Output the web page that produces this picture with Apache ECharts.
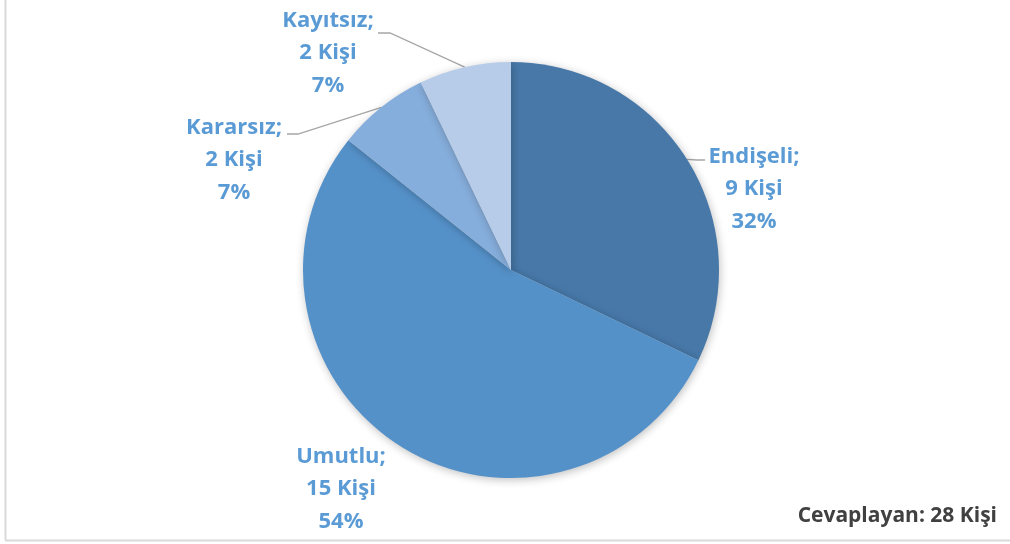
<!DOCTYPE html>
<html>
<head>
<meta charset="utf-8">
<style>
html, body { margin: 0; padding: 0; background: #fff; }
#main { width: 1010px; height: 544px; }
</style>
<script src="https://cdn.jsdelivr.net/npm/echarts@6/dist/echarts.min.js"></script>
</head>
<body>
<div id="main"></div>
<script>
// veriler
var names = ['Endişeli', 'Umutlu', 'Kararsız', 'Kayıtsız'];
var counts = [9, 15, 2, 2];
var percents = ['32%', '54%', '7%', '7%'];
var sliceColors = ['#4778a8', '#5591c9', '#86aedc', '#b7cce8'];
var footnote = 'Cevaplayan: 28 Kişi';

// etiket merkezleri
var labelPos = [
	{ x: 754, y: 189 },
	{ x: 341, y: 489 },
	{ x: 234, y: 160 },
	{ x: 328, y: 53 }
];
// kılavuz çizgilerin kırılma ve bitiş noktaları (ilk satıra bağlanır)
var leaderPts = [
	[[697, 160], [705, 160]],
	null,
	[[298, 134], [287, 134]],
	[[390, 33], [378, 33]]
];

var chart = echarts.init(document.getElementById('main'));

var pieData = names.map(function (n, i) {
	return {
		name: n,
		value: counts[i],
		itemStyle: { color: sliceColors[i] },
		labelLine: { show: i !== 1 }
	};
});

var option = {
	backgroundColor: '#ffffff',
	animation: false,
	graphic: [{
		type: 'line',
		shape: { x1: 5.5, y1: 0, x2: 5.5, y2: 540 },
		style: { stroke: '#d9d9d9', lineWidth: 2 }
	}, {
		type: 'line',
		shape: { x1: 5, y1: 540.5, x2: 1010, y2: 540.5 },
		style: { stroke: '#d9d9d9', lineWidth: 2 }
	}, {
		type: 'text',
		right: 13,
		top: 506,
		style: {
			text: footnote,
			fill: '#404040',
			font: 'bold 21px "Open Sans", "Noto Sans", sans-serif'
		}
	}],
	series: [{
		type: 'pie',
		center: [511, 270],
		radius: 208,
		startAngle: 90,
		clockwise: true,
		data: pieData,
		itemStyle: {
			shadowBlur: 8,
			shadowColor: 'rgba(0,0,0,0.25)',
			shadowOffsetX: 1,
			shadowOffsetY: 2
		},
		label: {
			show: true,
			position: 'outside',
			formatter: function (p) {
				return p.name + ';\n' + p.value + ' Kişi\n' + percents[p.dataIndex];
			},
			color: '#5b9bd5',
			fontFamily: '"Open Sans", "Noto Sans", sans-serif',
			fontWeight: 'bold',
			fontSize: 22,
			lineHeight: 32.5,
			align: 'center'
		},
		labelLine: {
			show: true,
			length: 10,
			length2: 10,
			lineStyle: { color: '#a6a6a6', width: 1.3 }
		},
		labelLayout: function (params) {
			var i = params.dataIndex;
			var p = labelPos[i];
			var res = { x: p.x, y: p.y, align: 'center', verticalAlign: 'middle' };
			if (leaderPts[i] && params.labelLinePoints) {
				res.labelLinePoints = [params.labelLinePoints[0]].concat(leaderPts[i]);
			}
			return res;
		}
	}]
};

chart.setOption(option);
</script>
</body>
</html>
